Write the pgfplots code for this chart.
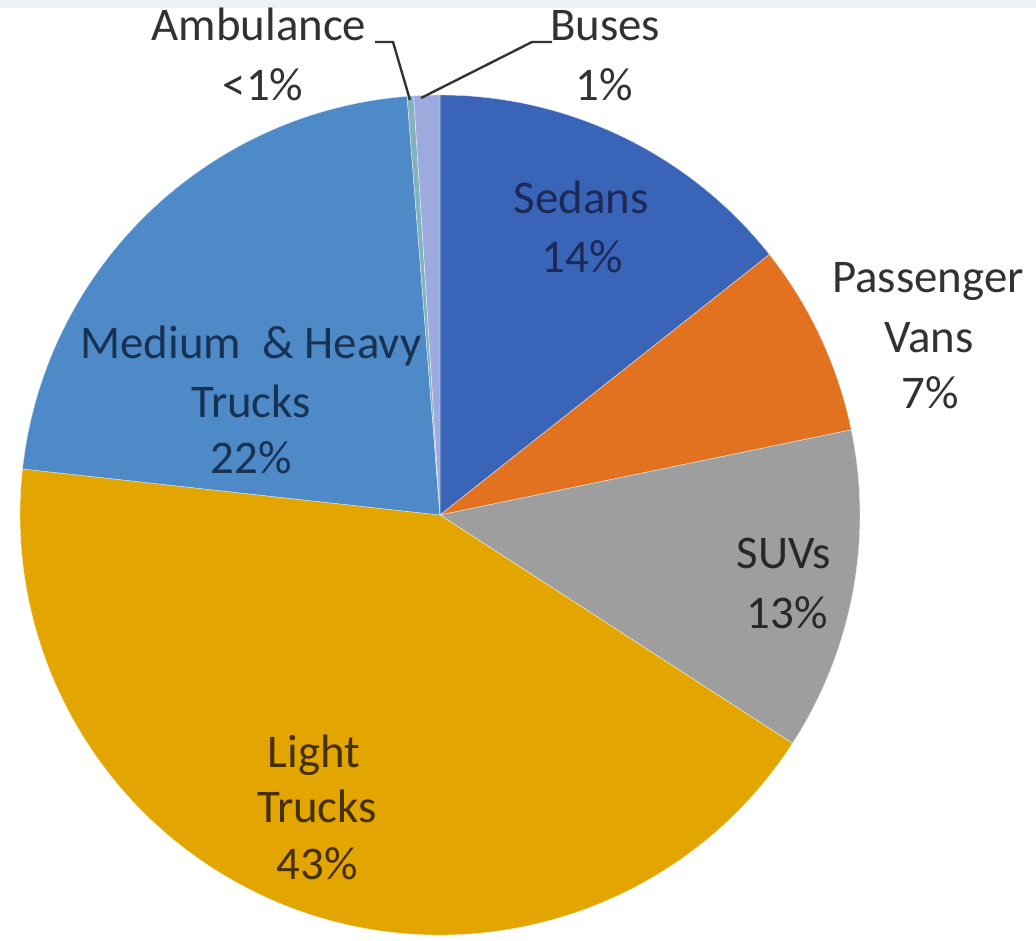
\documentclass[border=0pt]{standalone}
\usepackage{pgfplots}
\pgfplotsset{compat=1.18}
\usepackage{pgfplotstable}
\usepackage{fontspec}
\setmainfont{Carlito}

\definecolor{slice0}{RGB}{58,100,184}   % Sedans
\definecolor{slice1}{RGB}{226,113,32}   % Passenger Vans
\definecolor{slice2}{RGB}{158,158,158}  % SUVs
\definecolor{slice3}{RGB}{227,166,0}    % Light Trucks
\definecolor{slice4}{RGB}{77,138,199}   % Medium & Heavy Trucks
\definecolor{slice5}{RGB}{130,178,190}  % Ambulance
\definecolor{slice6}{RGB}{157,170,222}  % Buses
\definecolor{lbl}{RGB}{50,50,50}
\definecolor{lblSed}{RGB}{28,42,88}
\definecolor{lblMed}{RGB}{24,50,84}
\definecolor{lblSuv}{RGB}{40,40,40}
\definecolor{lblLt}{RGB}{70,48,0}
\definecolor{bgband}{RGB}{236,241,247}

% share of each vehicle type (percent), clockwise from 12 o'clock
\pgfplotstableread{
label value
Sedans 14.35
Vans 7.4
SUVs 12.4
LightTrucks 42.6
MediumHeavy 22.0
Ambulance 0.25
Buses 1.0
}\pietable

% cumulative start/end angles
\gdef\curang{90}
\foreach \i in {0,...,6}{%
  \pgfplotstablegetelem{\i}{value}\of\pietable
  \pgfmathsetmacro{\endang}{\curang-3.6*\pgfplotsretval}%
  \expandafter\xdef\csname angS\i\endcsname{\curang}%
  \expandafter\xdef\csname angE\i\endcsname{\endang}%
  \xdef\curang{\endang}%
}

\begin{document}
\begin{tikzpicture}
\begin{axis}[
  name=pie,
  x=1bp, y=1bp, scale only axis,
  xmin=0, xmax=1036, ymin=0, ymax=941, y dir=reverse,
  axis lines=none, ticks=none, clip=false,
]
\fill[bgband] (axis cs:0,0) rectangle (axis cs:1036,8);

\pgfplotsinvokeforeach{0,...,6}{
  \filldraw[fill=slice#1, draw=white!80!slice#1, line width=0.4pt, line join=round]
    (axis cs:440,515) -- ++(\csname angS#1\endcsname:420bp)
    arc[start angle=\csname angS#1\endcsname, end angle=\csname angE#1\endcsname, radius=420bp] -- cycle;
}

% leader lines
\draw[black!80, line width=2.4pt] (axis cs:375,42) -- (axis cs:393,42) -- (axis cs:410,100);
\draw[black!80, line width=2.4pt] (axis cs:552,42) -- (axis cs:532,42) -- (axis cs:421,98);

\tikzset{lab/.style={anchor=base, font=\fontsize{47}{57}\selectfont, inner sep=0pt}}
\node[lab, text=lbl] at (axis cs:259,40) {Ambulance};
\node[lab, text=lbl] at (axis cs:263,100) {<1\%};
\node[lab, text=lbl] at (axis cs:605,40) {Buses};
\node[lab, text=lbl] at (axis cs:604,100) {1\%};
\node[lab, text=lblSed] at (axis cs:581,213) {Sedans};
\node[lab, text=lblSed] at (axis cs:582,272) {14\%};
\node[lab, text=lbl] at (axis cs:928,292) {Passenger};
\node[lab, text=lbl] at (axis cs:929,352) {Vans};
\node[lab, text=lbl] at (axis cs:930,408) {7\%};
\node[lab, text=lblSuv] at (axis cs:784,568) {SUVs};
\node[lab, text=lblSuv] at (axis cs:787,628) {13\%};
\node[lab, text=lblMed] at (axis cs:251,358) {Medium\ \ \&\ Heavy};
\node[lab, text=lblMed] at (axis cs:251,417) {Trucks};
\node[lab, text=lblMed] at (axis cs:251,473) {22\%};
\node[lab, text=lblLt] at (axis cs:314,767) {Light};
\node[lab, text=lblLt] at (axis cs:317,822) {Trucks};
\node[lab, text=lblLt] at (axis cs:317,879) {43\%};
\end{axis}
\pgfresetboundingbox
\path[use as bounding box] (pie.south west) rectangle (pie.north east);
\end{tikzpicture}
\end{document}
